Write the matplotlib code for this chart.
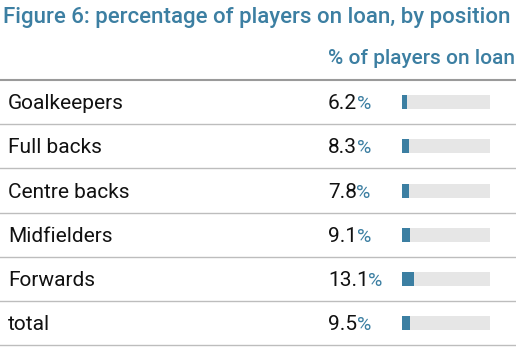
import matplotlib

matplotlib.use("Agg")
import matplotlib.pyplot as plt
import numpy as np

positions = ["Goalkeepers", "Full backs", "Centre backs", "Midfielders", "Forwards", "total"]
loan_pct = [6.2, 8.3, 7.8, 9.1, 13.1, 9.5]

title = "Figure 6: percentage of players on loan, by position"
col_header = "% of players on loan"

blue = "#3c7fa2"
track = "#e6e6e6"
W, H = 516, 358

plt.rcParams["font.family"] = ["Roboto", "DejaVu Sans"]

fig = plt.figure(figsize=(W / 100, H / 100), dpi=100)

# layout axes in pixel coordinates
ax = fig.add_axes([0, 0, 1, 1])
ax.set_xlim(0, W)
ax.set_ylim(H, 0)
ax.axis("off")

top, row_h = 80, 44.2
n = len(positions)

ax.text(3, 18, title, fontsize=16, fontweight="medium", color=blue, va="center", ha="left")
ax.text(515, 58, col_header, fontsize=15, fontweight="medium", color=blue, va="center", ha="right")

ax.axhline(top, color="#9a9a9a", lw=1.5)
for i in range(n):
    y = top + row_h * (i + 1)
    ax.axhline(y, color="#bdbdbd", lw=1)

num_texts = []
for i, (name, v) in enumerate(zip(positions, loan_pct)):
    yb = top + row_h * (i + 0.5) + 7
    ax.text(8, yb, name, fontsize=15, color="#111111", va="baseline", ha="left")
    t = ax.text(328, yb, f"{v:.1f}", fontsize=15, color="#111111", va="baseline", ha="left")
    num_texts.append((t, yb))

fig.canvas.draw()
r = fig.canvas.get_renderer()
inv = ax.transData.inverted()
for t, yb in num_texts:
    bb = t.get_window_extent(r)
    xe = inv.transform((bb.x1, bb.y0))[0]
    ax.text(xe - 0.5, yb, "%", fontsize=14, color=blue, va="baseline", ha="left")

# bar axes
x0, x1 = 402, 490
bx = fig.add_axes([x0 / W, 1 - (top + row_h * n) / H, (x1 - x0) / W, row_h * n / H])
bx.set_xlim(0, 100)
bx.set_ylim(n, 0)
bx.axis("off")
ys = np.arange(n) + 0.5
bx.barh(ys, [100] * n, height=14 / row_h, color=track, left=0)
bx.barh(ys, loan_pct, height=14 / row_h, color=blue)

fig.savefig("out.png", dpi=100)
